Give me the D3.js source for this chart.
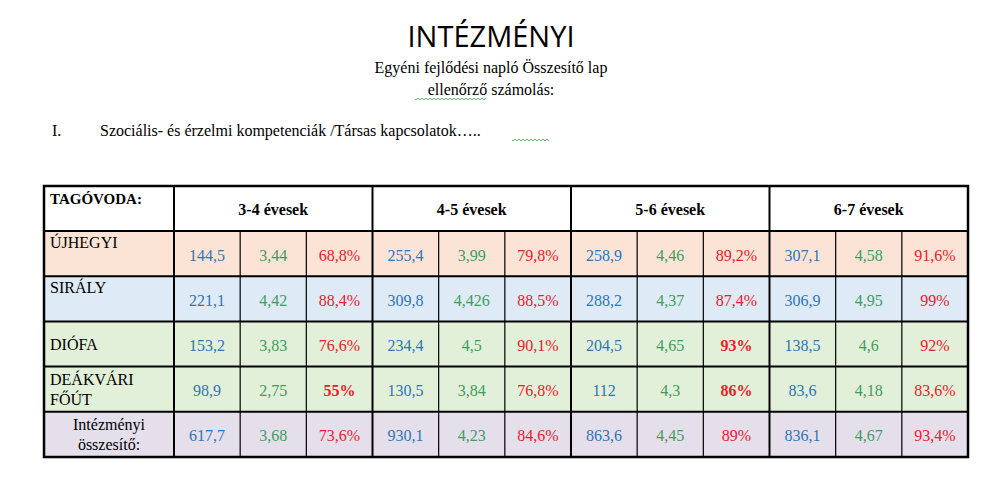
<!DOCTYPE html>
<html><head><meta charset="utf-8">
<script src="https://cdn.jsdelivr.net/npm/d3@7"></script>
<style>body{margin:0;background:#fff}</style>
</head><body>
<svg id="c" width="987" height="477"></svg>
<script>
const groups = ['3-4 évesek', '4-5 évesek', '5-6 évesek', '6-7 évesek'];
const rowNames = [['ÚJHEGYI'], ['SIRÁLY'], ['DIÓFA'], ['DEÁKVÁRI', 'FŐÚT'], ['Intézményi', 'összesítő:']];
const points = [
  ['144,5', '255,4', '258,9', '307,1'],
  ['221,1', '309,8', '288,2', '306,9'],
  ['153,2', '234,4', '204,5', '138,5'],
  ['98,9', '130,5', '112', '83,6'],
  ['617,7', '930,1', '863,6', '836,1']
];
const averages = [
  ['3,44', '3,99', '4,46', '4,58'],
  ['4,42', '4,426', '4,37', '4,95'],
  ['3,83', '4,5', '4,65', '4,6'],
  ['2,75', '3,84', '4,3', '4,18'],
  ['3,68', '4,23', '4,45', '4,67']
];
const percents = [
  ['68,8%', '79,8%', '89,2%', '91,6%'],
  ['88,4%', '88,5%', '87,4%', '99%'],
  ['76,6%', '90,1%', '93%', '92%'],
  ['55%', '76,8%', '86%', '83,6%'],
  ['73,6%', '84,6%', '89%', '93,4%']
];
const rowFill = ['#fbe4d5', '#deeaf6', '#e2efd9', '#e2efd9', '#e5dfec'];
const valColor = ['#2e75b6', '#3c9e5c', '#e8202a'];

const svg = d3.select('#c');
const serif = 'Liberation Serif, Times New Roman, serif';

svg.append('text').attr('x', 491).attr('y', 47).attr('text-anchor', 'middle')
  .attr('font-family', 'Open Sans, sans-serif').attr('font-size', 29).text('INTÉZMÉNYI');
svg.append('text').attr('x', 491).attr('y', 73).attr('text-anchor', 'middle')
  .attr('font-family', serif).attr('font-size', 16).text('Egyéni fejlődési napló Összesítő lap');
svg.append('text').attr('x', 491).attr('y', 95).attr('text-anchor', 'middle')
  .attr('font-family', serif).attr('font-size', 16).text('ellenőrző számolás:');
svg.append('text').attr('x', 52).attr('y', 136).attr('font-family', serif).attr('font-size', 16).text('I.');
svg.append('text').attr('x', 100).attr('y', 136).attr('font-family', serif).attr('font-size', 16)
  .text('Szociális- és érzelmi kompetenciák /Társas kapcsolatok…..');

// wavy green underlines
function wavy(x0, x1, y) {
  let d = `M${x0},${y}`;
  for (let x = x0; x < x1; x += 2) d += `L${x + 1},${y + ((x - x0) / 2 % 2 ? -1 : 1)}`;
  svg.append('path').attr('d', d).attr('fill', 'none').attr('stroke', '#3aa03a').attr('stroke-width', 0.8);
}
wavy(415, 487, 99);
wavy(512, 550, 140);

// layout scales
const tLeft = 44, nameW = 130, tRight = 968, tTop = 186, headH = 45, tBottom = 457;
const gx = d3.scaleBand().domain(d3.range(groups.length)).range([tLeft + nameW, tRight]);
const sx = d3.scaleBand().domain([0, 1, 2]).range([0, gx.bandwidth()]);
const ry = d3.scaleBand().domain(d3.range(rowNames.length)).range([tTop + headH, tBottom]);

const rows = svg.selectAll('g.row').data(rowNames).join('g').attr('class', 'row');
rows.append('rect').attr('x', tLeft).attr('y', (d, i) => ry(i)).attr('width', tRight - tLeft)
  .attr('height', ry.bandwidth()).attr('fill', (d, i) => rowFill[i]);

// names
rows.each(function(lines, i) {
  const last = i === rowNames.length - 1;
  const x = last ? tLeft + nameW / 2 : tLeft + 6;
  const t = d3.select(this).append('text').attr('font-family', serif).attr('font-size', 16)
    .attr('text-anchor', last ? 'middle' : 'start');
  const yStart = lines.length === 2 ? ry(i) + 18 : (i === 2 ? ry(i) + 29 : ry(i) + 17);
  lines.forEach((l, k) => t.append('tspan').attr('x', x).attr('y', yStart + k * 20).text(l));
});

// values
const series = [points, averages, percents];
series.forEach((s, k) => {
  s.forEach((row, i) => row.forEach((v, g) => {
    svg.append('text').attr('x', gx(g) + sx(k) + sx.bandwidth() / 2)
      .attr('y', ry(i) + ry.bandwidth() / 2 + 7).attr('text-anchor', 'middle')
      .attr('font-family', serif).attr('font-size', 16).attr('fill', valColor[k])
      .attr('font-weight', k === 2 && (v === '55%' || v === '86%' || v === '93%') ? 'bold' : null)
      .text(v);
  }));
});

// header
svg.append('text').attr('x', tLeft + 6).attr('y', tTop + 18).attr('font-family', serif)
  .attr('font-size', 15).attr('font-weight', 'bold').text('TAGÓVODA:');
groups.forEach((g, i) => svg.append('text').attr('x', gx(i) + gx.bandwidth() / 2).attr('y', tTop + 29)
  .attr('text-anchor', 'middle').attr('font-family', serif).attr('font-size', 16)
  .attr('font-weight', 'bold').text(g));

// grid lines
const line = (x1, y1, x2, y2, w) => svg.append('line').attr('x1', x1).attr('y1', y1)
  .attr('x2', x2).attr('y2', y2).attr('stroke', '#000').attr('stroke-width', w);
d3.range(rowNames.length).forEach(i => line(tLeft, ry(i), tRight, ry(i), 2));
groups.forEach((g, i) => {
  line(gx(i), tTop, gx(i), tBottom, 2);
  [1, 2].forEach(k => line(gx(i) + sx(k), tTop + headH, gx(i) + sx(k), tBottom, 1.2));
});
svg.append('rect').attr('x', tLeft).attr('y', tTop).attr('width', tRight - tLeft)
  .attr('height', tBottom - tTop).attr('fill', 'none').attr('stroke', '#000').attr('stroke-width', 2.5);
</script>
</body></html>
